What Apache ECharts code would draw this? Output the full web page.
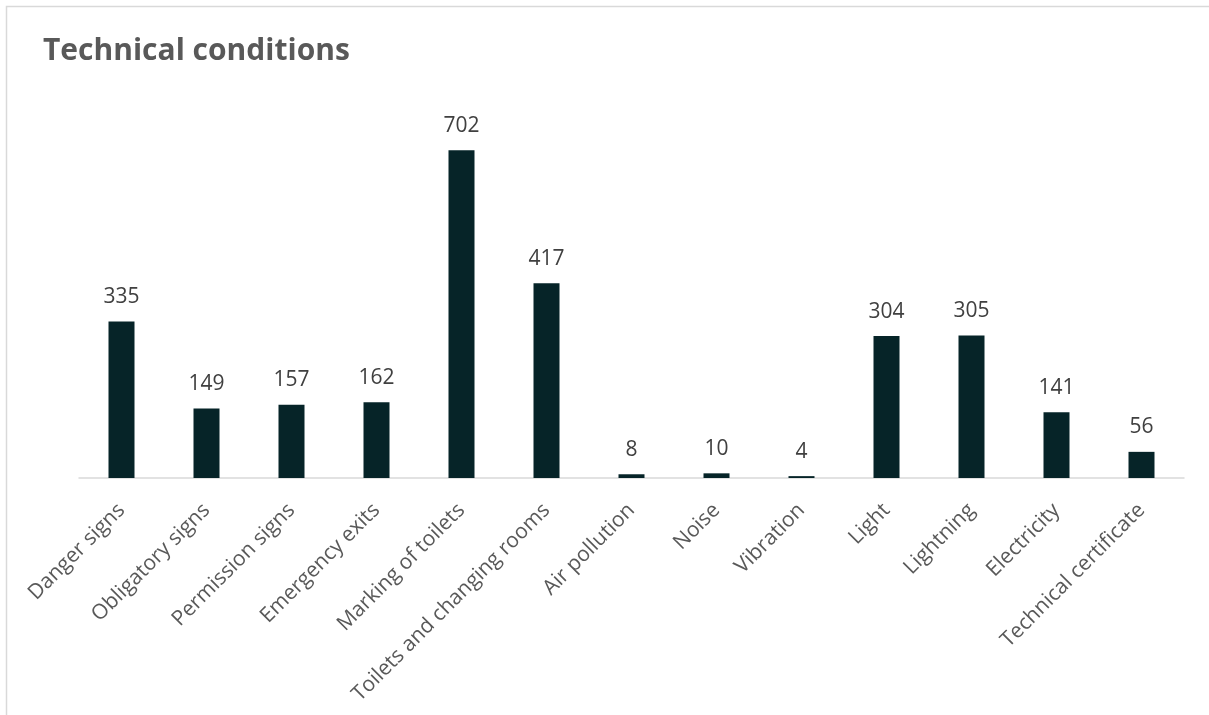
<!DOCTYPE html>
<html><head><meta charset="utf-8">
<script src="https://cdn.jsdelivr.net/npm/echarts@6/dist/echarts.min.js"></script>
<style>html,body{margin:0;padding:0;background:#fff}#c{width:1209px;height:715px}</style>
</head><body><div id="c"></div>
<script>
const categories = ["Danger signs","Obligatory signs","Permission signs","Emergency exits","Marking of toilets","Toilets and changing rooms","Air pollution","Noise","Vibration","Light","Lightning","Electricity","Technical certificate"];
const values = [335,149,157,162,702,417,8,10,4,304,305,141,56];
const titleText = "Technical conditions";

const chart = echarts.init(document.getElementById('c'));
chart.setOption({
  animation:false,
  graphic:[{type:'rect',shape:{x:6.5,y:6.5,width:1300,height:800},style:{fill:'none',stroke:'#d9d9d9',lineWidth:1.5}}],
  title:{text:titleText,left:38,top:31,textStyle:{fontFamily:'Open Sans',fontWeight:'bold',fontSize:30,color:'#595959'}},
  grid:{left:79,right:25,top:104.4,bottom:237,containLabel:false},
  xAxis:{type:'category',data:categories,
    axisLine:{lineStyle:{color:'#d9d9d9',width:1.5}},axisTick:{show:false},
    axisLabel:{rotate:45,interval:0,margin:29,fontFamily:'Open Sans',fontSize:21,color:'#595959'}},
  yAxis:{type:'value',min:0,max:800,show:false,splitLine:{show:false}},
  series:[{type:'bar',data:values,barWidth:26,itemStyle:{color:'#062428'},
    label:{show:true,position:'top',distance:14,fontFamily:'Open Sans',fontSize:21,color:'#404040'}}]
});
</script></body></html>
